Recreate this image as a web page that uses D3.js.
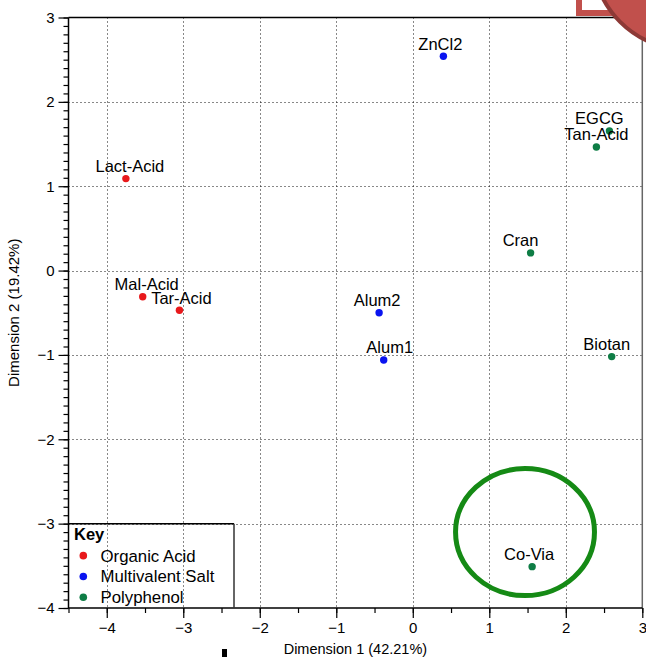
<!DOCTYPE html>
<html>
<head>
<meta charset="utf-8">
<script src="https://cdn.jsdelivr.net/npm/d3@7"></script>
<style>
  html, body { margin: 0; padding: 0; background: #fff; }
  svg { display: block; font-family: "Liberation Sans", Arial, Helvetica, sans-serif; }
</style>
</head>
<body>
<svg id="chart" width="646" height="657"></svg>
<script>
// Sample names, their group and coordinates on the first two dimensions
const samples = ["ZnCl2", "EGCG", "Tan-Acid", "Lact-Acid", "Cran", "Mal-Acid",
                 "Tar-Acid", "Alum2", "Alum1", "Biotan", "Co-Via"];
const groups  = ["Multivalent Salt", "Polyphenol", "Polyphenol", "Organic Acid", "Polyphenol",
                 "Organic Acid", "Organic Acid", "Multivalent Salt", "Multivalent Salt",
                 "Polyphenol", "Polyphenol"];
const dim1 = [0.40, 2.57, 2.40, -3.75, 1.54, -3.53, -3.05, -0.44, -0.38, 2.60, 1.56];
const dim2 = [2.54, 1.655, 1.465, 1.09, 0.21, -0.31, -0.47, -0.50, -1.06, -1.02, -3.51];

// Horizontal label nudges (px) so overlapping names stay readable
const labelNudge = [-3, -10, 0, 4, -10, 4, 2, -2, 6, -5, -3];

// Legend groups and their colours
const groupNames  = ["Organic Acid", "Multivalent Salt", "Polyphenol"];
const groupColors = ["#e8191c", "#0a14f0", "#0e7d45"];

// Axis ticks
const xTicks = [-4, -3, -2, -1, 0, 1, 2, 3];
const yTicks = [-4, -3, -2, -1, 0, 1, 2, 3];

// Highlight ellipse around the Co-Via region (data units)
const ringCenter = [1.467, -3.10];
const ringRadius = [0.908, 0.753];

const svg = d3.select("#chart");
const x = d3.scaleLinear().domain([-4.5, 3]).range([68.5, 642.3]);
const y = d3.scaleLinear().domain([-4, 3]).range([608, 17.5]);
const color = d3.scaleOrdinal().domain(groupNames).range(groupColors);

// Dotted grid
const grid = svg.append("g").attr("stroke", "#111").attr("stroke-width", 1)
  .attr("stroke-dasharray", "1,3");
grid.selectAll("line.v").data(xTicks.filter(d => d > -4.5 && d < 3)).join("line")
  .attr("x1", d => Math.round(x(d)) + 0.5).attr("x2", d => Math.round(x(d)) + 0.5)
  .attr("y1", y(3)).attr("y2", y(-4));
grid.selectAll("line.h").data(yTicks.filter(d => d > -4 && d < 3)).join("line")
  .attr("y1", d => Math.round(y(d)) + 0.5).attr("y2", d => Math.round(y(d)) + 0.5)
  .attr("x1", x(-4.5)).attr("x2", x(3));

// Frame: top and right borders
svg.append("line").attr("x1", x(-4.5)).attr("x2", x(3)).attr("y1", y(3)).attr("y2", y(3))
  .attr("stroke", "#000").attr("stroke-width", 1.5);
svg.append("line").attr("x1", x(3)).attr("x2", x(3)).attr("y1", y(3)).attr("y2", y(-4))
  .attr("stroke", "#666").attr("stroke-width", 1.5);

// X axis with major and half-unit minor ticks
const xAxis = svg.append("g").attr("transform", `translate(0,${y(-4)})`);
xAxis.call(d3.axisBottom(x).tickValues(d3.range(-4.5, 3.01, 0.5)).tickSize(5).tickFormat(""))
  .call(g => g.select(".domain").remove());
xAxis.append("g")
  .call(d3.axisBottom(x).tickValues(xTicks).tickSize(10).tickPadding(4)
    .tickFormat(d3.format("d")))
  .call(g => g.select(".domain").remove());
xAxis.selectAll("text").attr("font-size", "15px").attr("fill", "#000")
  .attr("font-family", "'Liberation Sans', Arial, sans-serif");
xAxis.selectAll("line").attr("stroke", "#000").attr("stroke-width", 1.2);
svg.append("line").attr("x1", x(-4.5)).attr("x2", x(3)).attr("y1", y(-4)).attr("y2", y(-4))
  .attr("stroke", "#000").attr("stroke-width", 1.5);

// Y axis with major and tenth-unit minor ticks
const yAxis = svg.append("g").attr("transform", `translate(${x(-4.5)},0)`);
yAxis.call(d3.axisLeft(y).tickValues(d3.range(-40, 31, 1).map(d => d / 10)).tickSize(5).tickFormat(""))
  .call(g => g.select(".domain").remove());
yAxis.append("g")
  .call(d3.axisLeft(y).tickValues(yTicks).tickSize(10).tickPadding(4)
    .tickFormat(d3.format("d")))
  .call(g => g.select(".domain").remove());
yAxis.selectAll("text").attr("font-size", "15px").attr("fill", "#000")
  .attr("font-family", "'Liberation Sans', Arial, sans-serif");
yAxis.selectAll("line").attr("stroke", "#000").attr("stroke-width", 1.2);
svg.append("line").attr("x1", x(-4.5)).attr("x2", x(-4.5)).attr("y1", y(3)).attr("y2", y(-4))
  .attr("stroke", "#000").attr("stroke-width", 1.5);

// Axis titles
svg.append("text").attr("x", (x(-4.5) + x(3)) / 2).attr("y", 654)
  .attr("text-anchor", "middle").attr("font-size", "14.5px").attr("fill", "#000")
  .text("Dimension 1 (42.21%)");
svg.append("text")
  .attr("transform", `translate(19,${(y(3) + y(-4)) / 2}) rotate(-90)`)
  .attr("text-anchor", "middle").attr("font-size", "15px").attr("fill", "#000")
  .text("Dimension 2 (19.42%)");

// Highlight ring
svg.append("ellipse")
  .attr("cx", x(ringCenter[0])).attr("cy", y(ringCenter[1]))
  .attr("rx", x(ringCenter[0] + ringRadius[0]) - x(ringCenter[0]))
  .attr("ry", y(ringCenter[1] - ringRadius[1]) - y(ringCenter[1]))
  .attr("fill", "none").attr("stroke", "#158a15").attr("stroke-width", 5);

// Points and their labels
const rows = samples.map((s, i) => ({ name: s, group: groups[i], d1: dim1[i], d2: dim2[i], nudge: labelNudge[i] }));
svg.append("g").selectAll("circle").data(rows).join("circle")
  .attr("cx", d => x(d.d1)).attr("cy", d => y(d.d2)).attr("r", 3.7)
  .attr("fill", d => color(d.group));
svg.append("g").selectAll("text").data(rows).join("text")
  .attr("x", d => x(d.d1) + d.nudge).attr("y", d => y(d.d2) - 6.5)
  .attr("text-anchor", "middle").attr("font-size", "16.5px").attr("fill", "#000")
  .text(d => d.name);

// Legend
const lgTop = y(-3);
const lgRight = 234;
svg.append("line").attr("x1", x(-4.5)).attr("x2", lgRight).attr("y1", lgTop).attr("y2", lgTop)
  .attr("stroke", "#000").attr("stroke-width", 1.5);
svg.append("line").attr("x1", lgRight).attr("x2", lgRight).attr("y1", lgTop).attr("y2", y(-4))
  .attr("stroke", "#333").attr("stroke-width", 1.5);
svg.append("text").attr("x", 74).attr("y", lgTop + 16.5)
  .attr("font-size", "16.5px").attr("font-weight", "bold").attr("fill", "#000").text("Key");
const items = svg.append("g").selectAll("g").data(groupNames).join("g")
  .attr("transform", (d, i) => `translate(0,${lgTop + 32 + i * 20.8})`);
items.append("circle").attr("cx", 83.3).attr("cy", 0).attr("r", 3.8).attr("fill", d => color(d));
items.append("text").attr("x", 100.5).attr("y", 6).attr("font-size", "16.8px").attr("fill", "#000")
  .text(d => d);

// Callout shapes clipped at the top-right corner
svg.append("rect").attr("x", 579).attr("y", -40).attr("width", 120).attr("height", 53)
  .attr("fill", "#fff").attr("stroke", "#c1504c").attr("stroke-width", 6);
svg.append("circle").attr("cx", 688).attr("cy", -46).attr("r", 96)
  .attr("fill", "#c1504c").attr("stroke", "#8d3936").attr("stroke-width", 4);

// Small marker below the x axis
svg.append("rect").attr("x", 222).attr("y", 649).attr("width", 5).attr("height", 8).attr("fill", "#000");
</script>
</body>
</html>
